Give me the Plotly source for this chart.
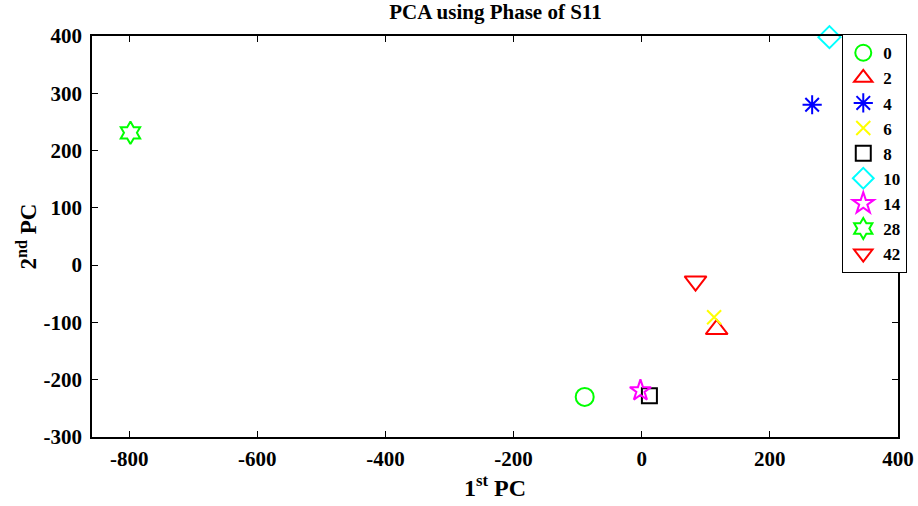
import plotly.graph_objects as go

labels = ["0", "2", "4", "6", "8", "10", "14", "28", "42"]
pc1 = [-89, 117, 266, 113, 12, 293, -2, -798, 84]
pc2 = [-230, -112, 280, -91, -228, 398, -219, 231, -28]
colors = ["#00ff00", "#ff0000", "#0000ff", "#ffff00", "#000000", "#00ffff", "#ff00ff", "#00ff00", "#ff0000"]
symbols = ["circle-open", "triangle-up-open", "asterisk-open", "x-thin-open", "square-open",
           "diamond-open", "star-open", "hexagram-open", "triangle-down-open"]
sizes = [18, 19, 16, 14, 15, 17, 16, 17, 19]
xticks = [-800, -600, -400, -200, 0, 200, 400]
yticks = [-300, -200, -100, 0, 100, 200, 300, 400]

font = "Liberation Serif, Times New Roman, serif"

fig = go.Figure()
for lab, x, y, c, s, sz in zip(labels, pc1, pc2, colors, symbols, sizes):
    fig.add_trace(go.Scatter(
        x=[x], y=[y], mode="markers", name="<b>%s</b>" % lab, cliponaxis=False,
        marker=dict(symbol=s, size=sz, color=c, line=dict(color=c, width=2)),
    ))

axis_common = dict(
    showline=True, linecolor="black", linewidth=1.5, mirror="allticks",
    ticks="inside", ticklen=6, tickwidth=1.2, tickcolor="black",
    showgrid=False, zeroline=False, automargin=False,
    tickfont=dict(family=font, size=21, color="black"),
)

fig.update_layout(
    width=918, height=506,
    margin=dict(l=92, r=19, t=36, b=69),
    paper_bgcolor="white", plot_bgcolor="white",
    font=dict(family=font, color="black"),
    title=dict(text="<b>PCA using Phase of S11</b>", x=(92 + 899) / 2 / 918, xanchor="center",
               y=1 - 12 / 506, yanchor="middle", font=dict(family=font, size=21, color="black")),
    xaxis=dict(range=[-858, 400], tickvals=xticks,
               ticktext=["<b>%d</b>" % v for v in xticks],
               title=dict(text="<b>1<sup>st</sup> PC</b>", font=dict(family=font, size=24, color="black"),
                          standoff=6),
               ticklabelstandoff=2,
               **axis_common),
    yaxis=dict(range=[-300, 400], tickvals=yticks,
               ticktext=["<b>%d</b>" % v for v in yticks],
               title=dict(text="<b>2<sup>nd</sup> PC</b>", font=dict(family=font, size=23, color="black"),
                          standoff=0),
               ticklabelstandoff=4,
               **axis_common),
    legend=dict(x=1.01, y=1.005, xanchor="right", yanchor="top", bordercolor="black", borderwidth=1.2,
                bgcolor="white", font=dict(family=font, size=17, color="black"),
                tracegroupgap=0, itemwidth=30),
    showlegend=True,
)

fig.write_html("out.html")
